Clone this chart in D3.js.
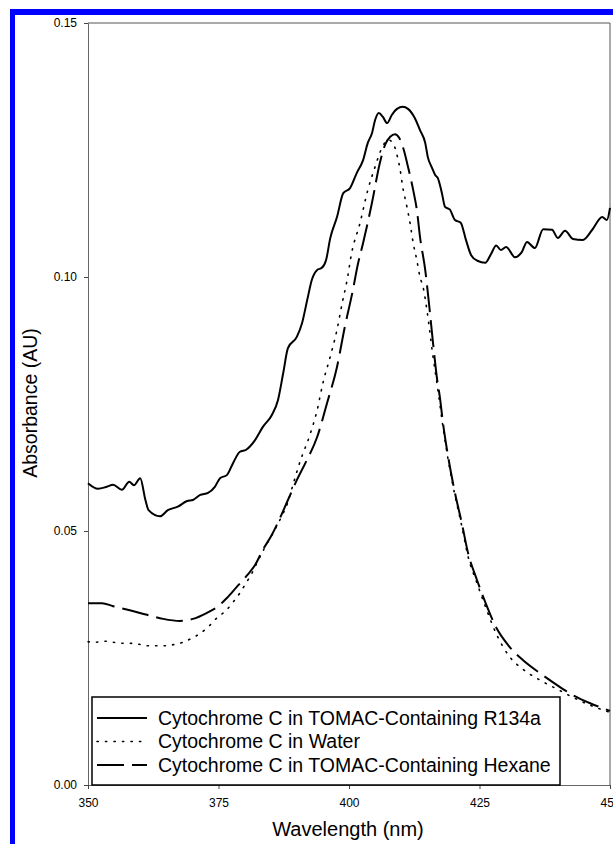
<!DOCTYPE html>
<html>
<head>
<meta charset="utf-8">
<script src="https://cdn.jsdelivr.net/npm/d3@7"></script>
<style>
  body { margin: 0; background: #fff; }
  svg { display: block; font-family: "Liberation Sans", Arial, sans-serif; }
</style>
</head>
<body>
<script>
// wavelength (nm) / absorbance (AU)
let r134aNm = [350, 351.9, 353.6, 354.8, 356.5, 357.9, 358.8, 360, 361, 361.6, 363.8, 365.3, 367.2, 369, 370.1, 371.5, 373, 374.3, 375.3, 376.6, 377.8, 379.1, 380.3, 382, 383.5, 385.2, 386.4, 387.4, 388.3, 390, 391, 392, 392.9, 393.9, 394.8, 395.6, 396.4, 397.7, 398.9, 400.2, 401.5, 402.7, 403.6, 404.4, 405, 405.7, 406.5, 407.3, 408.2, 409.2, 410.3, 411.3, 412.6, 413.6, 414.6, 415.1, 415.9, 416.5, 417, 417.8, 418.4, 419.3, 420.3, 421.4, 422.4, 423.4, 424.6, 426.1, 427.2, 428.2, 429.1, 430.1, 431.8, 433.1, 434.1, 435.6, 437.2, 438.9, 440, 441.4, 442.9, 444.8, 446.6, 448.5, 449.4, 450]
let r134aAbs = [.0594, .0583, .0587, .0591, .0581, .0597, .059, .0604, .0561, .0541, .0529, .0541, .0548, .0559, .0561, .0571, .0575, .0587, .0604, .061, .0634, .0656, .066, .0679, .0705, .0728, .0758, .0811, .086, .0882, .0909, .0955, .0995, .1014, .1018, .1033, .1076, .1118, .1165, .1175, .1205, .123, .1264, .1283, .1309, .1323, .1315, .1303, .1319, .1331, .1335, .1331, .1313, .1289, .1264, .1236, .1215, .1201, .1195, .1165, .1138, .1133, .1112, .1107, .1073, .1043, .1032, .1028, .1045, .1062, .1053, .1059, .1039, .1049, .1069, .1057, .1094, .1093, .1077, .1091, .1075, .1073, .1093, .1118, .1112, .1136]

let waterNm = [350, 351.3, 353.3, 354.8, 356.5, 358, 359.8, 361.5, 363.2, 364.9, 366.7, 368.2, 369.9, 371.6, 373.2, 374.7, 376.4, 377.8, 379.1, 380.3, 381.2, 382.5, 384, 385.5, 387.2, 388.1, 389.1, 390.6, 392.5, 393.9, 395, 396.4, 397.7, 398.7, 399.6, 400.5, 402.1, 403.6, 405, 406.3, 407.5, 408.4, 409.2, 409.8, 410.3, 411.1, 411.7, 412.3, 413, 413.6, 414.2, 415, 416, 417, 418, 419, 420.3, 421.6, 422.8, 424.5, 426.1, 428.2, 430.8, 433.3, 437.2, 440, 443, 446.2, 450]
let waterAbs = [.0282, .0281, .0283, .0281, .0279, .0279, .0277, .0274, .0274, .0274, .0277, .0281, .0289, .0299, .0313, .0329, .0343, .036, .0378, .0398, .0413, .044, .047, .0497, .0531, .0551, .0585, .0636, .0689, .0738, .0791, .0843, .0896, .0949, .0992, .1047, .1106, .1171, .1217, .1254, .127, .1264, .124, .1211, .1177, .1138, .1106, .1067, .1033, .1, .098, .093, .085, .078, .0705, .064, .057, .051, .045, .0398, .0352, .0298, .0252, .0228, .0203, .0188, .0172, .0157, .0143]

let hexaneNm = [350, 352.7, 354.8, 358, 361.3, 364.4, 367.6, 370.1, 372.8, 374.7, 376.6, 378.5, 380.5, 382, 383.5, 385.2, 386.8, 388.3, 390, 391.8, 393.9, 395.8, 397.7, 399.2, 400.7, 401.7, 402.7, 404.4, 405.9, 406.9, 407.9, 408.8, 409.6, 410.5, 411.3, 412.3, 413, 413.6, 414.6, 415.3, 416.1, 416.9, 417.4, 418, 419, 420.3, 421.6, 422.8, 424.5, 426.1, 428.2, 430.6, 433.3, 436.6, 439.8, 442.9, 446.2, 450]
let hexaneAbs = [.0358, .0358, .0352, .0344, .0335, .0327, .0323, .0327, .0339, .035, .0368, .039, .0413, .0433, .0463, .0492, .0526, .0561, .06, .0637, .0685, .0752, .0823, .0902, .0972, .1025, .1067, .1146, .1224, .126, .1276, .1281, .1274, .125, .1217, .1171, .1132, .1079, .1014, .095, .087, .0797, .0764, .0713, .0646, .0575, .0516, .0457, .0404, .036, .031, .0274, .0246, .022, .0197, .0177, .0161, .0146]

let seriesNames = ['Cytochrome C in TOMAC-Containing R134a', 'Cytochrome C in Water', 'Cytochrome C in TOMAC-Containing Hexane']
let xTicks = [350, 375, 400, 425, 450]
let yTicks = [0, 0.05, 0.10, 0.15]

let w = 613
let h = 844
let mLeft = 88, mRight = 610, mTop = 23, mBottom = 785

let svg = d3.select('body').append('svg').attr('width', w).attr('height', h)

// blue frame of the page (only left and top are in the picture)
svg.append('rect').attr('x', 10).attr('y', 9).attr('width', 5).attr('height', h - 9).attr('fill', '#0000ff')
svg.append('rect').attr('x', 10).attr('y', 9).attr('width', w - 10).attr('height', 6).attr('fill', '#0000ff')

let x = d3.scaleLinear().domain([350, 450]).range([mLeft, mRight])
let y = d3.scaleLinear().domain([0, 0.15]).range([mBottom, mTop])

// frame top / right
svg.append('path')
  .attr('d', `M${mLeft},${mTop}H${mRight}V${mBottom}`)
  .attr('fill', 'none').attr('stroke', '#555').attr('stroke-width', 1)

let yAxis = svg.append('g')
  .attr('transform', `translate(${mLeft},0)`)
  .call(d3.axisLeft(y).tickValues(yTicks).tickSize(4).tickPadding(7).tickFormat(d3.format('.2f')))
let xAxis = svg.append('g')
  .attr('transform', `translate(0,${mBottom})`)
  .call(d3.axisBottom(x).tickValues(xTicks).tickSize(4).tickPadding(9).tickFormat(d3.format('d')))

svg.selectAll('.domain').attr('stroke', '#666')
svg.selectAll('.tick line').attr('stroke', '#444')
svg.selectAll('.tick text').attr('font-size', '12px').attr('fill', '#000')
  .style('font-family', '"Liberation Sans", Arial, sans-serif')

svg.append('text')
  .attr('transform', 'translate(30,403) rotate(-90)')
  .attr('text-anchor', 'middle').attr('dy', '0.35em')
  .attr('font-size', '19.5px').text('Absorbance (AU)')

svg.append('text')
  .attr('x', 348).attr('y', 829).attr('dy', '0.35em')
  .attr('text-anchor', 'middle')
  .attr('font-size', '20px').text('Wavelength (nm)')

let styles = [
  { dash: null, width: 2 },
  { dash: '1.3,7.2', width: 1.6 },
  { dash: '27,8', width: 2 }
]
let series = [
  d3.zip(r134aNm, r134aAbs),
  d3.zip(waterNm, waterAbs),
  d3.zip(hexaneNm, hexaneAbs)
]

let line = d3.line().x(d => x(d[0])).y(d => y(d[1])).curve(d3.curveMonotoneX)

let plot = svg.append('g')
plot.selectAll('path')
  .data(series)
  .enter()
  .append('path')
  .attr('d', line)
  .attr('fill', 'none')
  .attr('stroke', '#000')
  .attr('stroke-width', (d, i) => styles[i].width)
  .attr('stroke-dasharray', (d, i) => styles[i].dash)
  .attr('stroke-linecap', (d, i) => i == 1 ? 'round' : 'butt')

// legend
let lg = svg.append('g')
lg.append('rect')
  .attr('x', 92).attr('y', 697).attr('width', 468).attr('height', mBottom - 697)
  .attr('fill', '#fff').attr('stroke', '#000').attr('stroke-width', 1.5)

let rows = lg.selectAll('g.row')
  .data(seriesNames)
  .enter()
  .append('g')
  .attr('class', 'row')
  .attr('transform', (d, i) => `translate(0,${718 + i * 23.5})`)

rows.append('line')
  .attr('x1', 97).attr('x2', 147)
  .attr('stroke', '#000')
  .attr('stroke-width', (d, i) => styles[i].width)
  .attr('stroke-dasharray', (d, i) => styles[i].dash)
  .attr('stroke-linecap', (d, i) => i == 1 ? 'round' : 'butt')

rows.append('text')
  .attr('x', 158).attr('dy', '0.35em')
  .attr('font-size', '19.5px')
  .text(d => d)
</script>
</body>
</html>
